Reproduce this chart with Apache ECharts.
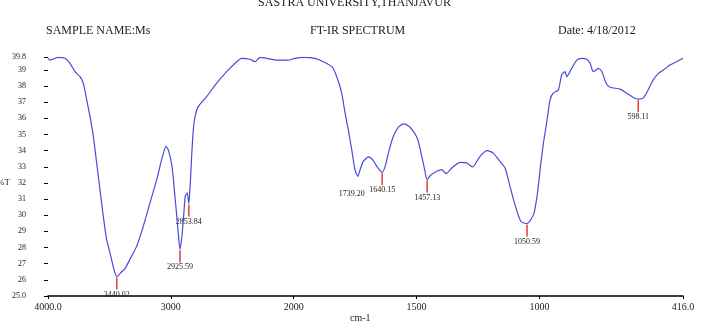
<!DOCTYPE html>
<html lang="en">
<head>
    <meta charset="UTF-8">
    <title>FT-IR Spectrum</title>
    <script src="https://cdn.jsdelivr.net/npm/echarts@6/dist/echarts.min.js"></script>
    <style>
        body {
            margin: 0;
            background-color: #ffffff;
        }
        #chart {
            width: 709px;
            height: 328px;
        }
    </style>
</head>
<body>
<div id="chart"></div>

<script>
    // wavenumber (cm-1) and %T
    const wavenumbers = [
        4000, 3984, 3916, 3862, 3821, 3780, 3740, 3713, 3685, 3658, 3631, 3604, 3577, 3550, 3523,
        3490, 3465, 3440.02, 3400, 3373, 3333, 3278, 3224, 3170, 3115, 3075, 3040, 3021, 2990,
        2972, 2955, 2940, 2925.59, 2910, 2896, 2883, 2867, 2853.84, 2842, 2828, 2815, 2800, 2777,
        2709, 2627, 2546, 2464, 2424, 2356, 2315, 2275, 2220, 2139, 2044, 2000, 1961, 1913, 1880,
        1845, 1825, 1805, 1791, 1778, 1764, 1751, 1739.2, 1730, 1717, 1696, 1679, 1662, 1640.15,
        1628, 1615, 1595, 1574, 1554, 1534, 1513, 1495, 1482, 1470, 1457.13, 1445, 1418, 1398,
        1380, 1357, 1323, 1296, 1272, 1242, 1212, 1188, 1161, 1140, 1120, 1098, 1075, 1050.59,
        1035, 1022, 1008, 996, 984, 971, 957, 944, 923, 910, 896, 889, 869, 848, 828, 808, 794,
        781, 760, 746, 729, 713, 672, 645, 618, 598.11, 578, 558, 537, 516, 496, 469, 442, 416
    ];
    const transmittance = [
        39.72, 39.61, 39.78, 39.72, 39.41, 38.89, 38.58, 38.18, 37.15, 36.11, 34.88, 33.24, 31.59, 29.94, 28.50,
        27.5, 26.7, 26.2, 26.5, 26.7, 27.27, 28.09, 29.33, 30.77, 32.21, 33.44, 34.26, 34.06, 33.0,
        31.6, 30.2, 28.9, 27.89, 28.7, 29.94, 31.18, 31.39, 30.73, 32.0, 34.06, 35.5, 36.22, 36.73,
        37.35, 38.18, 38.89, 39.51, 39.72, 39.66, 39.51, 39.78, 39.72, 39.61, 39.61, 39.7, 39.78, 39.72, 39.51,
        39.2, 38.58, 37.56, 36.32, 35.29, 34.06, 32.82, 32.41, 32.82, 33.34, 33.61, 33.44, 33.03, 32.66,
        33.03, 33.85, 34.88, 35.46, 35.66, 35.54, 35.19, 34.68, 33.85, 33.03, 32.21, 32.45, 32.72, 32.82,
        32.58, 32.93, 33.28, 33.24, 32.99, 33.65, 34.0, 33.85, 33.34, 32.93, 31.79, 30.56, 29.6, 29.49,
        29.74, 30.15, 31.39, 33.03, 34.47, 35.71, 37.15, 37.56, 37.76, 38.69, 38.89, 38.58, 39.10, 39.61, 39.72, 39.66, 39.41,
        38.89, 39.10, 38.89, 38.18, 37.93, 37.81, 37.56, 37.29, 37.19, 37.25, 37.76, 38.38, 38.79, 38.99, 39.31, 39.51, 39.72
    ];

    // picked peaks
    const peakWavenumbers = [3440.02, 2925.59, 2853.84, 1739.2, 1640.15, 1457.13, 1050.59, 598.11];
    const peakTransmittance = [26.2, 27.89, 30.73, 32.41, 32.66, 32.21, 29.49, 37.19];
    const peakLabels = ['3440.02', '2925.59', '2853.84', '1739.20', '1640.15', '1457.13', '1050.59', '598.11'];

    // x tick labels (cm-1)
    const xTicks = [4000, 3000, 2000, 1500, 1000, 416];
    const xTickLabels = ['4000.0', '3000', '2000', '1500', '1000', '416.0'];

    // the plot is expanded 2x below 2000 cm-1
    function toU(w) {
        return w <= 2000 ? w : 2000 + (w - 2000) / 2;
    }

    const lineData = wavenumbers.map((w, i) => [toU(w), transmittance[i]]);
    const peakData = peakWavenumbers.map((w, i) => [toU(w), peakTransmittance[i], peakLabels[i]]);
    const xTickU = xTicks.map(toU);

    const font = "'Liberation Serif', serif";
    const chart = echarts.init(document.getElementById('chart'));

    const option = {
        animation: false,
        graphic: [
            {type: 'text', left: 'center', top: -3, style: {text: 'SASTRA UNIVERSITY,THANJAVUR', font: '12px ' + font, fill: '#222'}},
            {type: 'text', left: 46, top: 25, style: {text: 'SAMPLE NAME:Ms', font: '12px ' + font, fill: '#222'}},
            {type: 'text', left: 310, top: 25, style: {text: 'FT-IR SPECTRUM', font: '12px ' + font, fill: '#222'}},
            {type: 'text', left: 558, top: 25, style: {text: 'Date: 4/18/2012', font: '12px ' + font, fill: '#222'}},
            {type: 'text', left: 350, top: 313, style: {text: 'cm-1', font: '10px ' + font, fill: '#222'}},
            {type: 'text', left: -3, top: 178, style: {text: '%T', font: '9px ' + font, fill: '#222'}}
        ],
        grid: {
            left: 48,
            right: 26,
            top: 57,
            bottom: 32
        },
        xAxis: {
            type: 'value',
            inverse: true,
            min: 416,
            max: 3000,
            splitLine: {show: false},
            axisLine: {lineStyle: {color: '#000', width: 1.5}},
            axisTick: {
                customValues: xTickU,
                length: 3,
                lineStyle: {color: '#000'}
            },
            axisLabel: {
                customValues: xTickU,
                fontFamily: font,
                fontSize: 10,
                color: '#222',
                margin: 6,
                formatter: v => {
                    const i = xTickU.indexOf(v);
                    return i >= 0 ? xTickLabels[i] : '';
                }
            }
        },
        yAxis: {
            type: 'value',
            min: 25,
            max: 39.8,
            interval: 1,
            splitLine: {show: false},
            axisLine: {show: false},
            axisTick: {
                show: true,
                length: 4,
                lineStyle: {color: '#000'}
            },
            axisLabel: {
                fontFamily: font,
                fontSize: 8,
                color: '#222',
                margin: 22,
                showMaxLabel: true,
                formatter: v => {
                    if (Math.abs(v - 25) < 1e-6) return '25.0';
                    if (Math.abs(v - 39.8) < 1e-6) return '39.8';
                    return String(Math.round(v));
                }
            }
        },
        series: [
            {
                name: 'spectrum',
                type: 'line',
                data: lineData,
                smooth: 0.2,
                showSymbol: false,
                lineStyle: {color: '#4a4ad8', width: 1.2}
            },
            {
                name: 'peaks',
                type: 'custom',
                data: peakData,
                z: 3,
                renderItem: (params, api) => {
                    const p = api.coord([api.value(0), api.value(1)]);
                    const label = peakLabels[params.dataIndex];
                    const noTick = label === '1739.20';
                    const children = [{
                        type: 'text',
                        style: {
                            x: p[0] + (noTick ? -6 : 0),
                            y: p[1] + 14,
                            text: label,
                            font: '8px ' + font,
                            fill: '#222',
                            align: 'center',
                            verticalAlign: 'top'
                        }
                    }];
                    if (!noTick) {
                        children.push({
                            type: 'line',
                            shape: {x1: p[0], y1: p[1] + 1, x2: p[0], y2: p[1] + 13},
                            style: {stroke: '#e03c3c', lineWidth: 1.5}
                        });
                    }
                    return {type: 'group', children: children};
                }
            }
        ]
    };
    chart.setOption(option);
</script>
</body>
</html>
